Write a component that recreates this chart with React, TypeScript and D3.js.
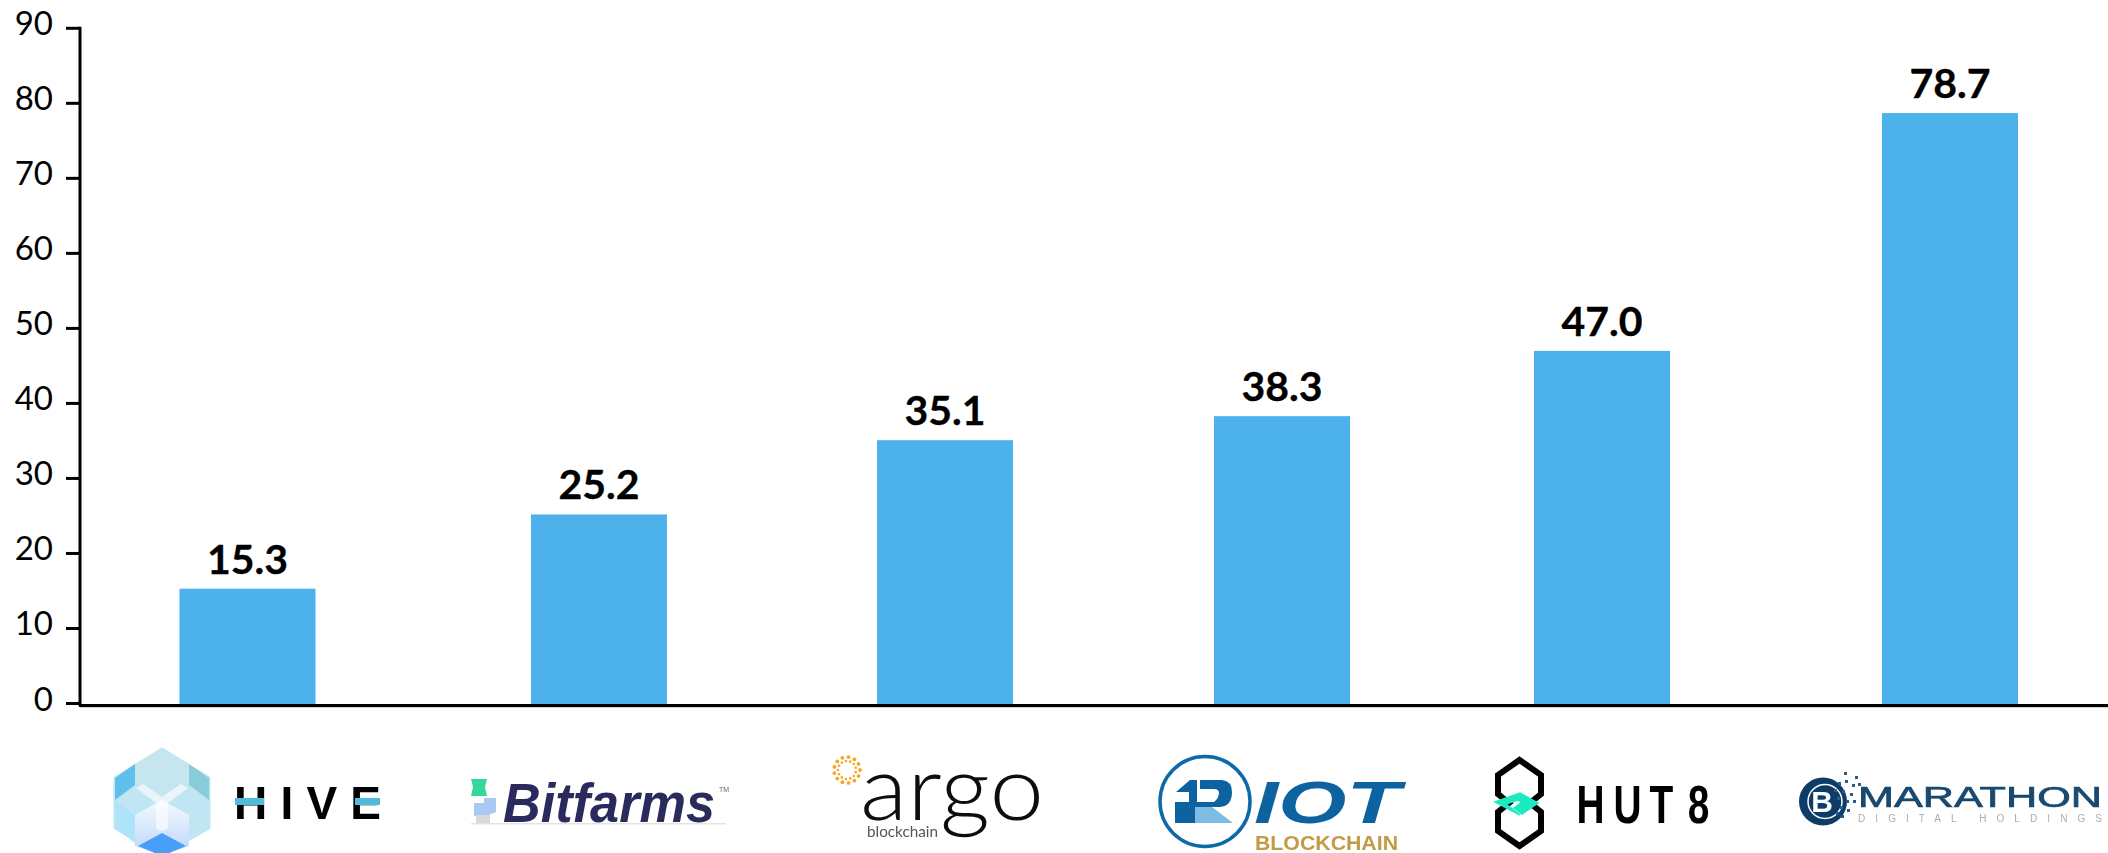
import React from "react";
import * as d3 from "d3";

const W = 2108, H = 853;
const companies = ["HIVE", "Bitfarms", "Argo", "Riot", "Hut 8", "Marathon"];
const debtValues = [15.3, 25.2, 35.1, 38.3, 47.0, 78.7];
const valueLabels = ["15.3", "25.2", "35.1", "38.3", "47.0", "78.7"];
const yTicks = [0, 10, 20, 30, 40, 50, 60, 70, 80, 90];

const y = d3.scaleLinear().domain([0, 90]).range([703.5, 28.3]);
// the source places its bars unevenly, under the logos
const x = d3.scaleOrdinal<string, number>().domain(companies).range([247.5, 599, 945, 1282, 1602, 1950]);
const barW = 136;

const SANS = "Lato, 'Open Sans', sans-serif";
const ARIAL = "'Liberation Sans', Arimo, sans-serif";

const dotRing = d3.range(26).map((i) => {
  const a = (i / 13) * Math.PI;
  const r = i % 2 ? 9 : 13;
  return { x: 847 + r * Math.cos(a), y: 770 + r * Math.sin(a), s: i % 2 ? 1.3 : 1.9 };
});
const scatter = [
  [1838, 782], [1845, 780], [1852, 784], [1842, 790], [1850, 793], [1846, 800], [1840, 806], [1847, 809],
  [1841, 815], [1853, 800], [1837, 797], [1836, 812], [1858, 783], [1834, 789], [1844, 772], [1855, 776],
];

function HiveLogo() {
  return (
    <g>
      <defs>
        <linearGradient id="hiveMid" x1="0" y1="0" x2="0" y2="1">
          <stop offset="0" stopColor="#f4fafd" />
          <stop offset="1" stopColor="#bcd6fa" />
        </linearGradient>
      </defs>
      <path d="M162 749 L209 778 L209 828 L162 855 L115 828 L115 778 Z" fill="#bfe6f2" stroke="#bfe6f2" strokeWidth="3" strokeLinejoin="round" />
      <path d="M115 778 L135 764 L135 785 L115 800 Z" fill="#5fc0ec" />
      <path d="M209 778 L189 764 L189 785 L209 800 Z" fill="#88cdd9" />
      <path d="M115 800 L135 815 L135 843 L115 828 Z" fill="#aee3fa" />
      <path d="M135 764 L162 749 L189 764 L189 790 L162 806 L135 790 Z" fill="#c6e6ef" />
      <path d="M135 815 L162 800 L189 815 L189 846 L162 855 L135 846 Z" fill="url(#hiveMid)" />
      <path d="M162 833 L186 846 L162 856 L138 846 Z" fill="#4a9ef8" />
      <path d="M136 788 L143 784 L162 797 L181 784 L188 788 L168 803 L168 828 Q162 834 156 828 L156 803 Z" fill="#ffffff" opacity="0.6" />
      <text x={234} y={819} fontFamily={ARIAL} fontWeight={700} fontSize={46} fill="#000" textLength={147} lengthAdjust="spacing">HIVE</text>
      <rect x={235} y={798} width={29} height={7} fill="#4fbcdc" />
      <rect x={355} y={798} width={25} height={7} fill="#4fbcdc" />
    </g>
  );
}

function BitfarmsLogo() {
  return (
    <g>
      <path d="M471 779 L487 779 L485 787 L487 796 L471 796 L473 787 Z" fill="#35d79a" />
      <path d="M474 803 L484 803 L484 798 L496 798 L496 812 L486 816 L474 816 Z" fill="#a9c9f2" />
      <rect x={476} y={815} width={14} height={8} fill="#d5d9de" />
      <rect x={471} y={823} width={255} height={1.5} fill="#e3e3e6" />
      <text x={503} y={822} fontFamily={ARIAL} fontStyle="italic" fontWeight={700} fontSize={55} fill="#2b2a5c" textLength={212} lengthAdjust="spacingAndGlyphs">Bitfarms</text>
      <text x={719} y={792} fontFamily={ARIAL} fontSize={7} fill="#666">TM</text>
    </g>
  );
}

function ArgoLogo() {
  return (
    <g>
      {dotRing.map((d, i) => <circle key={i} cx={d.x} cy={d.y} r={d.s} fill="#f6a623" />)}
      <text x={860} y={820} fontFamily={SANS} fontWeight={300} fontSize={90} fill="#0b0b0b" textLength={184} lengthAdjust="spacingAndGlyphs">argo</text>
      <text x={867} y={837} fontFamily={SANS} fontSize={15} fill="#555" textLength={71} lengthAdjust="spacingAndGlyphs">blockchain</text>
    </g>
  );
}

function RiotLogo() {
  return (
    <g>
      <circle cx={1205} cy={801.5} r={45} fill="none" stroke="#1069a8" strokeWidth={3.5} />
      <path d="M1175 807 L1195 807 L1195 823 L1175 823 Z" fill="#0a62a0" />
      <path d="M1195 807 L1212 807 L1233 823 L1195 823 Z" fill="#7fbbe3" />
      <path d="M1176 792 L1190 780 L1197 780 L1197 802 L1189 802 L1189 792 Z" fill="#0a62a0" />
      <path d="M1200 780 L1222 780 Q1232 781 1232 792 Q1232 806 1220 807 L1175 807 L1175 802 L1214 802 Q1219 798 1219 793 Q1219 789 1214 789 L1200 789 Z" fill="#0a62a0" />
      <text x={1254} y={823} fontFamily={ARIAL} fontStyle="italic" fontWeight={700} fontSize={59} fill="#0a62a0" textLength={146} lengthAdjust="spacingAndGlyphs">IOT</text>
      <text x={1255} y={850} fontFamily={ARIAL} fontWeight={700} fontSize={20} fill="#c39a45" textLength={143} lengthAdjust="spacingAndGlyphs">BLOCKCHAIN</text>
    </g>
  );
}

function Hut8Logo() {
  const glyphs = ["H", "U", "T", "8"];
  const gx = [1590.5, 1627.5, 1661.5, 1698.5];
  return (
    <g>
      <path d="M1519.5 760 L1541 775 L1541 794 L1530 803 L1541 812 L1541 831 L1519.5 846 L1498 831 L1498 812 L1509 803 L1498 794 L1498 775 Z" fill="none" stroke="#000" strokeWidth={6} strokeLinejoin="miter" />
      <path d="M1495 802 L1520 793 L1538 803 L1522 814 L1514 808 L1522 802 L1518 800 L1506 804 L1520 815 Z" fill="#1ceac0" stroke="#1ceac0" strokeWidth={1.5} />
      {glyphs.map((g, i) => (
        <text key={g} transform={`translate(${gx[i]},823) scale(0.72,1)`} textAnchor="middle" fontFamily={ARIAL} fontWeight={700} fontSize={54} fill="#000">{g}</text>
      ))}
    </g>
  );
}

function MarathonLogo() {
  return (
    <g>
      <circle cx={1823} cy={801.5} r={24} fill="#0f3e66" />
      <circle cx={1825} cy={801.5} r={17} fill="none" stroke="#fff" strokeWidth={1.5} />
      <path d="M1844 774 L1862 774 L1862 830 L1836 830 Q1848 815 1848 801 Q1848 786 1836 776 Z" fill="#fff" />
      <text x={1822} y={812} textAnchor="middle" fontFamily={ARIAL} fontWeight={700} fontSize={30} fill="#fff">B</text>
      {scatter.map(([a, b], i) => <rect key={i} x={a} y={b} width={3} height={3} fill="#2b5c86" />)}
      <text x={1858} y={807} fontFamily={ARIAL} fontSize={29} fill="#1a4a70" stroke="#1a4a70" strokeWidth={0.7} textLength={244} lengthAdjust="spacingAndGlyphs">MARATHON</text>
      <text x={1858} y={822} fontFamily={ARIAL} fontSize={10} fill="#a9adb3" textLength={244} lengthAdjust="spacing">DIGITAL HOLDINGS</text>
    </g>
  );
}

export default function App() {
  return (
    <svg width={W} height={H} viewBox={`0 0 ${W} ${H}`} style={{ position: "absolute", left: 0, top: 0, background: "#fff" }}>
      <defs>
        <filter id="soft" x="-2%" y="-2%" width="104%" height="104%"><feGaussianBlur stdDeviation="0.7" /></filter>
      </defs>
      {companies.map((c, i) => (
        <g key={c}>
          <rect x={(x(c) as number) - barW / 2} y={y(debtValues[i])} width={barW} height={y(0) - y(debtValues[i]) + 1} fill="#4db2ec" />
          <text x={x(c)} y={y(debtValues[i]) - 15} textAnchor="middle" fontFamily={SANS} fontWeight={700} fontSize={41} fill="#000" stroke="#000" strokeWidth={0.3}>{valueLabels[i]}</text>
        </g>
      ))}
      <line x1={80} x2={80} y1={y(90) - 1.5} y2={706} stroke="#000" strokeWidth={3} />
      <line x1={80} x2={W} y1={707.5} y2={707.5} stroke="#d0d0d0" strokeWidth={1} />
      <line x1={79} x2={W} y1={705.5} y2={705.5} stroke="#000" strokeWidth={3} />
      {yTicks.map((t) => (
        <g key={t}>
          <line x1={66} x2={80} y1={y(t)} y2={y(t)} stroke="#000" strokeWidth={3} />
          <text x={53} y={y(t) + 7} textAnchor="end" fontFamily={SANS} fontSize={33} fill="#000">{t}</text>
        </g>
      ))}
      <g filter="url(#soft)">
        <HiveLogo />
        <BitfarmsLogo />
        <ArgoLogo />
        <RiotLogo />
        <Hut8Logo />
        <MarathonLogo />
      </g>
    </svg>
  );
}
